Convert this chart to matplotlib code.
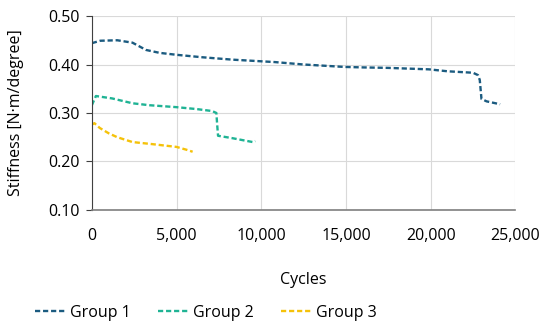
import matplotlib.pyplot as plt
from matplotlib.ticker import FuncFormatter

plt.rcParams['font.family'] = ['Open Sans', 'DejaVu Sans']

# Data
g1_cycles = [0, 500, 1500, 2400, 3200, 4000, 5000, 6500, 8300, 10800, 12500, 14900, 16000, 17500, 19900, 21000, 22500, 22800, 22900, 23000, 23300, 24100]
g1_stiff = [0.444, 0.449, 0.450, 0.445, 0.430, 0.424, 0.420, 0.415, 0.410, 0.405, 0.400, 0.395, 0.394, 0.393, 0.390, 0.386, 0.383, 0.378, 0.368, 0.329, 0.324, 0.318]

g2_cycles = [0, 240, 1200, 2400, 3400, 5000, 6200, 7100, 7350, 7400, 7450, 8300, 9500, 9650]
g2_stiff = [0.316, 0.335, 0.330, 0.320, 0.316, 0.312, 0.308, 0.304, 0.300, 0.275, 0.253, 0.248, 0.240, 0.242]

g3_cycles = [0, 150, 470, 1000, 1500, 2400, 3500, 5000, 5600, 5950]
g3_stiff = [0.276, 0.279, 0.269, 0.258, 0.250, 0.240, 0.236, 0.230, 0.224, 0.220]

groups = ['Group 1', 'Group 2', 'Group 3']
colors = ['#1b5b80', '#1fb394', '#f5c20a']

fig, ax = plt.subplots(figsize=(5.5, 3.27), dpi=100)
fig.subplots_adjust(left=0.167, right=0.937, top=0.951, bottom=0.358)

for xs, ys, name, c in zip([g1_cycles, g2_cycles, g3_cycles],
                           [g1_stiff, g2_stiff, g3_stiff], groups, colors):
    ax.plot(xs, ys, color=c, linestyle=(0, (2.2, 1.2)), linewidth=1.7, label=name)

ax.set_xlim(0, 25000)
ax.set_ylim(0.10, 0.50)
ax.set_xticks(range(0, 25001, 5000))
ax.set_yticks([0.10, 0.20, 0.30, 0.40, 0.50])
ax.xaxis.set_major_formatter(FuncFormatter(lambda v, p: f'{int(v):,}'))
ax.yaxis.set_major_formatter(FuncFormatter(lambda v, p: f'{v:.2f}'))
ax.grid(True, color='#d9d9d9', linewidth=0.8)
ax.set_axisbelow(True)

for s in ['top', 'right']:
    ax.spines[s].set_visible(False)
ax.spines['left'].set_color('#404040')
ax.spines['bottom'].set_color('#7f7f7f')
ax.spines['bottom'].set_linewidth(1.2)
ax.tick_params(axis='y', length=4, color='#404040', labelsize=11.5, pad=5)
ax.tick_params(axis='x', length=0, labelsize=11.5, pad=13)

ax.set_xlabel('Cycles', fontsize=11.5, labelpad=20)
ax.set_ylabel('Stiffness [N·m/degree]', fontsize=11.5, labelpad=17)

fig.legend(loc='lower center', bbox_to_anchor=(0.375, -0.025), ncol=3, frameon=False,
           fontsize=11.5, handlelength=2.0, handletextpad=0.2, columnspacing=1.7)

plt.savefig('out.png', dpi=100, facecolor='white')
